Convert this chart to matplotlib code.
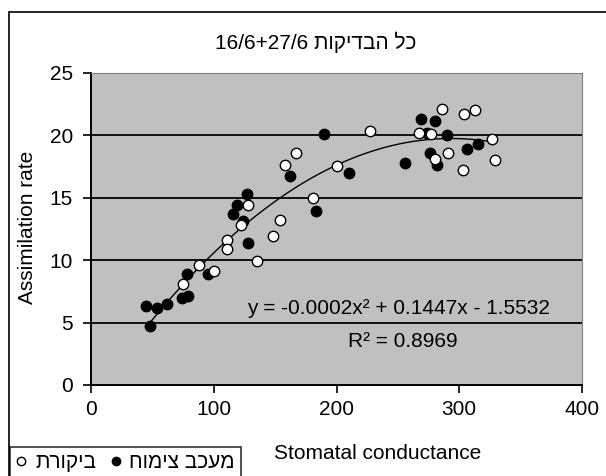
import numpy as np
import matplotlib
matplotlib.use("Agg")
import matplotlib.pyplot as plt
from matplotlib.patches import Rectangle
from matplotlib.lines import Line2D

plt.rcParams['font.family'] = ['Liberation Sans', 'DejaVu Sans']

# Data
control_x = [75, 88, 100, 111, 111, 122, 128, 135, 148, 154, 158, 167, 181, 200, 227,
             267, 277, 280, 286, 291, 303, 304, 313, 327, 329]
control_y = [8.1, 9.6, 9.1, 11.6, 10.9, 12.8, 14.4, 9.9, 11.9, 13.2, 17.6, 18.6, 15.0, 17.5, 20.3,
             20.2, 20.1, 18.1, 22.1, 18.6, 17.2, 21.7, 22.0, 19.7, 18.0]
treat_x = [45, 48, 54, 62, 74, 79, 78, 95, 116, 119, 124, 127, 128, 162, 183, 190, 210,
           256, 269, 274, 276, 280, 282, 290, 306, 315]
treat_y = [6.3, 4.7, 6.2, 6.5, 7.0, 7.1, 8.9, 8.9, 13.7, 14.4, 13.1, 15.3, 11.4, 16.7, 13.9, 20.1, 17.0,
           17.8, 21.3, 20.2, 18.6, 21.1, 17.6, 20.0, 18.9, 19.3]

title = "16/6+27/6 " + "כל הבדיקות"[::-1]
label_control = "ביקורת"[::-1]
label_treat = "מעכב צימוח"[::-1]
x_ticks = [0, 100, 200, 300, 400]
y_ticks = [0, 5, 10, 15, 20, 25]
eq_text = "y = -0.0002x² + 0.1447x - 1.5532"
r2_text = "R² = 0.8969"

FS = 15
W, H = 606, 476
fig = plt.figure(figsize=(W / 100, H / 100), dpi=100)
fig.patch.set_facecolor('white')

# outer chart frame
fig.patches.append(Rectangle((9 / W, -0.1), 1.2, 1 - 12 / H + 0.1, transform=fig.transFigure,
                             fill=False, edgecolor='black', linewidth=1.2))

ax = fig.add_axes([91 / W, 1 - 385 / H, (582 - 91) / W, (385 - 72.7) / H])
ax.set_facecolor('#C0C0C0')
ax.set_xlim(0, 400)
ax.set_ylim(0, 25)
ax.set_xticks(x_ticks)
ax.set_yticks(y_ticks)
ax.tick_params(direction='out', length=6, width=1.2, labelsize=FS, color='black')
ax.tick_params(axis='y', pad=7)
ax.tick_params(axis='x', pad=5)
for y in [5, 10, 15, 20]:
    ax.axhline(y, color='#111111', linewidth=1.4, zorder=1)
ax.spines['left'].set_color('black')
ax.spines['bottom'].set_color('black')
ax.spines['left'].set_linewidth(1.4)
ax.spines['bottom'].set_linewidth(1.4)
ax.spines['top'].set_color('#808080')
ax.spines['right'].set_color('#808080')

# trendline (fitted on all data)
all_x = np.array(control_x + treat_x, dtype=float)
all_y = np.array(control_y + treat_y, dtype=float)
coef = np.polyfit(all_x, all_y, 2)
xx = np.linspace(all_x.min(), all_x.max(), 200)
ax.plot(xx, np.polyval(coef, xx), color='black', linewidth=1, zorder=2)

ax.plot(treat_x, treat_y, linestyle='none', marker='o', markersize=7.5,
        markerfacecolor='black', markeredgecolor='black', zorder=3)
ax.plot(control_x, control_y, linestyle='none', marker='o', markersize=7.5,
        markerfacecolor='white', markeredgecolor='black', markeredgewidth=1, zorder=4)

ax.text(127, 6.1, eq_text, fontsize=FS, ha='left', va='center', zorder=5)
ax.text(254, 3.5, r2_text, fontsize=FS, ha='center', va='center', zorder=5)

ax.set_ylabel("Assimilation rate", fontsize=FS)
ax.yaxis.set_label_coords((37 - 91) / (582 - 91), (385 - 227) / (385 - 72.7))
ax.set_xlabel("Stomatal conductance", fontsize=FS)
ax.xaxis.set_label_coords((378 - 91) / (582 - 91), -(444 - 385) / (385 - 72.7))

fig.text(316 / W, 1 - 42 / H, title, fontsize=FS, ha='center', va='center')

handles = [Line2D([], [], linestyle='none', marker='o', markersize=6,
                  markerfacecolor='white', markeredgecolor='black'),
           Line2D([], [], linestyle='none', marker='o', markersize=6,
                  markerfacecolor='black', markeredgecolor='black')]
leg = fig.legend(handles, [label_control, label_treat], ncol=2, loc='upper left',
                 bbox_to_anchor=(10 / W, 1 - 447 / H), bbox_transform=fig.transFigure,
                 borderaxespad=0, fontsize=FS, frameon=True, fancybox=False,
                 edgecolor='black', handlelength=0.5, handletextpad=0.4,
                 columnspacing=0.7, borderpad=0.3)
leg.get_frame().set_linewidth(1.2)

fig.savefig("out.png", dpi=100)
